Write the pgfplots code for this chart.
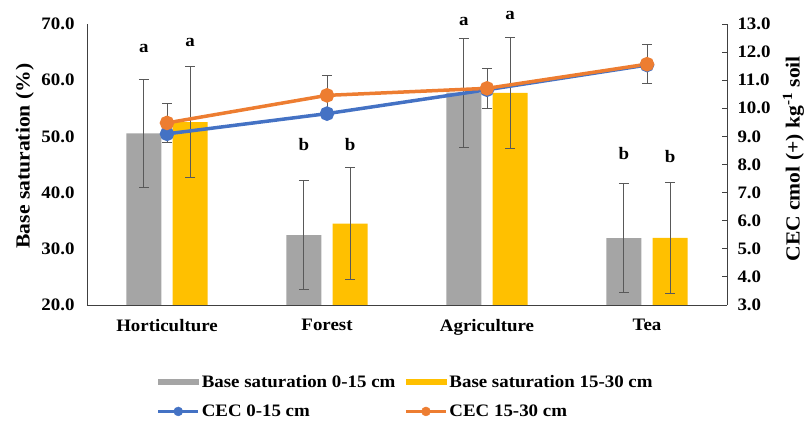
\documentclass[border=0pt]{standalone}
\usepackage{fontspec}
\setmainfont{Liberation Serif}[FakeStretch=1.08]
\usepackage{pgfplots}
\usepackage{pgfplotstable}
\pgfplotsset{compat=1.18}

\definecolor{bsgray}{HTML}{A5A5A5}
\definecolor{bsyel}{HTML}{FFC000}
\definecolor{cecblue}{HTML}{4472C4}
\definecolor{cecorange}{HTML}{ED7D31}
\definecolor{errgray}{HTML}{595959}

\newcommand{\fs}{\fontsize{17.5}{20}\selectfont\bfseries}
\newcommand{\fl}{\fontsize{20}{24}\selectfont\bfseries}

\pgfplotstableread{
x y e
-0.144 50.55 9.65
0.856 32.45 9.65
1.856 57.8 9.7
2.856 31.9 9.7
}\graytab
\pgfplotstableread{
x y e
0.144 52.55 9.85
1.144 34.5 9.9
2.144 57.75 9.85
3.144 31.95 9.85
}\yeltab
\pgfplotstableread{
x y
0 9.09
1 9.81
2 10.66
3 11.54
}\bluetab
\pgfplotstableread{
x y e
0 9.48 0.7
1 10.46 0.7
2 10.71 0.7
3 11.57 0.7
}\orangetab

\begin{document}
\begin{tikzpicture}
\useasboundingbox (-87pt,-117pt) rectangle (719pt,305pt);
\begin{axis}[
  scale only axis, width=640pt, height=281pt,
  xmin=-0.5, xmax=3.5, ymin=20, ymax=70,
  axis y line*=left, axis x line*=bottom,
  axis line style={-, draw=black!75, line width=0.8pt},
  xtick={0,1,2,3}, xticklabels={Horticulture,Forest,Agriculture,Tea},
  ytick={20,30,...,70},
  major tick length=0pt,
  ticklabel style={font=\fs},
  xticklabel style={yshift=-11pt},
  yticklabel style={xshift=-9pt},
  yticklabel={\pgfmathprintnumber[fixed,fixed zerofill,precision=1,assume math mode=true]{\tick}},
  every axis y label/.style={at={(axis description cs:-0.097,0.53)}, rotate=90, anchor=center, font=\fl},
  ylabel={Base saturation (\%)},
  clip mode=individual,
  legend columns=2,
  legend style={at={(axis description cs:0.104,-0.235)}, anchor=north west, draw=none, fill=none, font=\fs,
    /tikz/every even column/.append style={column sep=7pt}, row sep=12pt, cells={anchor=west}},
  error bars/error bar style={errgray, line width=1pt},
  error bars/error mark options={errgray, line width=1pt, mark size=5pt, rotate=90},
]
\addplot[ybar, bar width=35pt, bar shift=0pt, fill=bsgray, draw=none,
  legend image code/.code={\fill[bsgray] (0pt,-3pt) rectangle (41pt,3pt);},
  error bars/.cd, y dir=both, y explicit]
  table[x=x, y=y, y error=e] {\graytab};
\addlegendentry{Base saturation 0-15 cm}
\addplot[ybar, bar width=35pt, bar shift=0pt, fill=bsyel, draw=none,
  legend image code/.code={\fill[bsyel] (0pt,-3pt) rectangle (41pt,3pt);},
  error bars/.cd, y dir=both, y explicit]
  table[x=x, y=y, y error=e] {\yeltab};
\addlegendentry{Base saturation 15-30 cm}
\addlegendimage{legend image code/.code={\draw[cecblue, line width=3pt] (0pt,0pt) -- (40pt,0pt); \fill[cecblue] (20pt,0pt) circle (4.5pt);}}
\addlegendentry{CEC 0-15 cm}
\addlegendimage{legend image code/.code={\draw[cecorange, line width=3pt] (0pt,0pt) -- (40pt,0pt); \fill[cecorange] (20pt,0pt) circle (4.5pt);}}
\addlegendentry{CEC 15-30 cm}

\node[font=\fs] at (axis cs:-0.144,65.7) {a};
\node[font=\fs] at (axis cs:0.144,66.7) {a};
\node[font=\fs] at (axis cs:0.856,48.5) {b};
\node[font=\fs] at (axis cs:1.144,48.5) {b};
\node[font=\fs] at (axis cs:1.856,70.4) {a};
\node[font=\fs] at (axis cs:2.144,71.6) {a};
\node[font=\fs] at (axis cs:2.856,47.0) {b};
\node[font=\fs] at (axis cs:3.144,46.4) {b};
\end{axis}

\begin{axis}[
  scale only axis, width=640pt, height=281pt,
  xmin=-0.5, xmax=3.5, ymin=3, ymax=13,
  axis y line*=right, axis x line=none, xtick=\empty,
  axis line style={-, draw=black!75, line width=0.8pt},
  ytick={3,4,...,13},
  major tick length=5pt, tick align=inside,
  tick style={draw=black!75, line width=0.8pt},
  ticklabel style={font=\fs},
  yticklabel style={xshift=7pt},
  yticklabel={\pgfmathprintnumber[fixed,fixed zerofill,precision=1,assume math mode=true]{\tick}},
  every axis y label/.style={at={(axis description cs:1.104,0.52)}, rotate=90, anchor=center, font=\fl},
  ylabel={CEC cmol (+) kg\textsuperscript{-1} soil},
  clip=false,
  error bars/error bar style={errgray, line width=1pt},
  error bars/error mark options={errgray, line width=1pt, mark size=5pt, rotate=90},
]
\addplot[cecblue, line width=3.5pt, mark=*, mark size=5.5pt, mark options={solid}]
  table[x=x, y=y] {\bluetab};
\addplot[cecorange, line width=3.5pt, mark=*, mark size=5.5pt, mark options={solid},
  error bars/.cd, y dir=both, y explicit]
  table[x=x, y=y, y error=e] {\orangetab};
\end{axis}
\end{tikzpicture}
\end{document}
